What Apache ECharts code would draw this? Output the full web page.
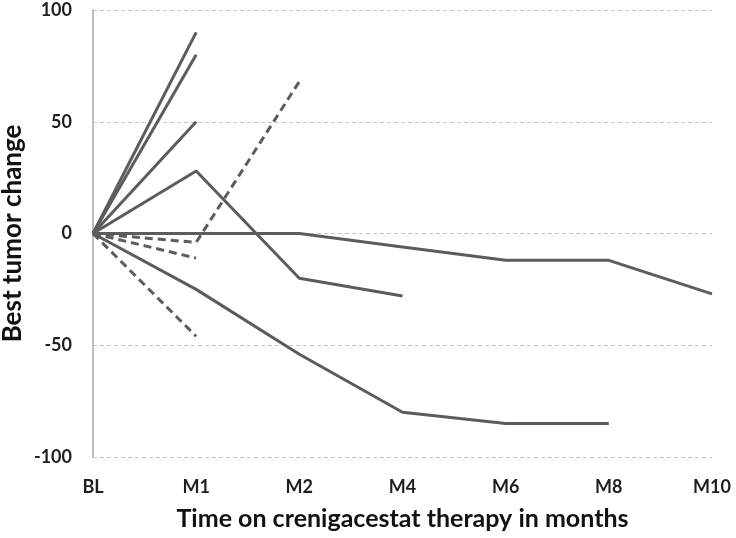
<!DOCTYPE html>
<html>
<head>
<meta charset="utf-8">
<script src="https://cdn.jsdelivr.net/npm/echarts@6/dist/echarts.min.js"></script>
<style>html,body{margin:0;padding:0;background:#fff;}#c{width:736px;height:538px;}</style>
</head>
<body>
<div id="c"></div>
<script>
const categories = ['BL', 'M1', 'M2', 'M4', 'M6', 'M8', 'M10'];
const yTicks = [-100, -50, 0, 50, 100];
const solid1 = [0, 90];
const solid2 = [0, 80];
const solid3 = [0, 50];
const solid4 = [0, 28, -20, -28];
const solid5 = [0, 0, 0, -6, -12, -12, -27];
const solid6 = [0, -25, -54, -80, -85, -85];
const dashed1 = [0, -4, 68];
const dashed2 = [0, -11];
const dashed3 = [0, -46];

const solidSeries = [solid1, solid2, solid3, solid4, solid5, solid6];
const dashedSeries = [dashed1, dashed2, dashed3];
const color = '#5c5c5c';
const series = [];
solidSeries.forEach(d => series.push({type:'line', data:d, symbol:'none', silent:true,
  lineStyle:{color:color, width:3, type:'solid'}}));
dashedSeries.forEach(d => series.push({type:'line', data:d, symbol:'none', silent:true,
  lineStyle:{color:color, width:3, type:[8,5]}}));

const chart = echarts.init(document.getElementById('c'));
chart.setOption({
  animation:false,
  grid:{left:93, right:24, top:10, bottom:81, containLabel:false, outerBoundsMode:'none'},
  xAxis:{type:'category', data:categories, boundaryGap:false,
    axisLine:{show:false}, axisTick:{show:false},
    axisLabel:{margin:21, fontFamily:'Lato', fontWeight:'bold', fontSize:18, color:'#1e1e1e'},
    name:'Time on crenigacestat therapy in months', nameLocation:'middle', nameGap:49,
    nameMoveOverlap:false,
    nameTextStyle:{fontFamily:'Lato', fontWeight:'bold', fontSize:25, color:'#111'}},
  yAxis:{type:'value', min:yTicks[0], max:yTicks[yTicks.length-1], interval:50,
    axisLine:{show:true, lineStyle:{color:'#bdbdbd', width:2}}, axisTick:{show:false},
    splitLine:{lineStyle:{color:'#c4c4c4', type:[4,3], width:1}},
    axisLabel:{margin:21, fontFamily:'Lato', fontWeight:'bold', fontSize:18, color:'#1e1e1e'},
    name:'Best tumor change', nameLocation:'middle', nameGap:67,
    nameMoveOverlap:false,
    nameTextStyle:{fontFamily:'Lato', fontWeight:'bold', fontSize:26, color:'#111'}},
  series:series
});
</script>
</body>
</html>
